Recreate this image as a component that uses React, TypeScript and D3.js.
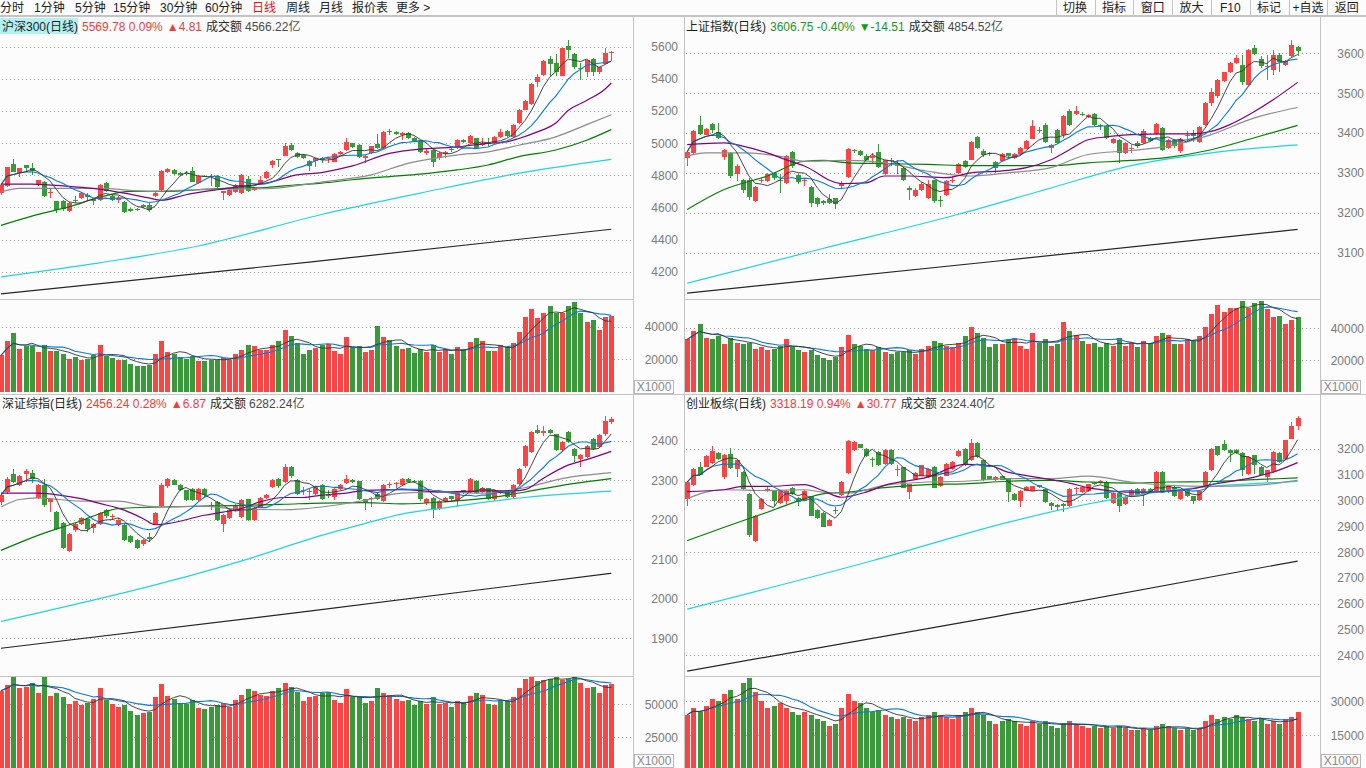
import React, { useEffect, useRef } from "react";
import * as d3 from "d3";

type Ohlc = [number, number, number, number]; // open, high, low, close
type Pt = [number, number]; // candle index, value

// ---------- 沪深300 ----------
const hs300Ohlc: Ohlc[] = [
  [4689,4751,4680,4741],[4731,4854,4725,4850],[4868,4899,4818,4823],[4813,4846,4792,4843],[4862,4865,4823,4848],
  [4848,4874,4803,4829],[4741,4772,4731,4768],[4758,4765,4665,4673],[4689,4714,4659,4697],[4638,4643,4566,4587],
  [4640,4648,4575,4590],[4577,4632,4570,4628],[4648,4669,4628,4640],[4659,4695,4652,4689],[4679,4689,4640,4662],
  [4650,4655,4612,4642],[4645,4745,4640,4741],[4751,4760,4695,4700],[4669,4680,4638,4645],[4645,4669,4628,4659],
  [4632,4638,4566,4570],[4591,4595,4570,4577],[4591,4597,4580,4585],[4617,4624,4595,4601],[4617,4634,4573,4587],
  [4669,4695,4665,4689],[4710,4832,4705,4827],[4819,4846,4813,4840],[4833,4840,4803,4809],[4817,4822,4798,4803],
  [4815,4825,4800,4810],[4829,4854,4757,4761],[4751,4800,4745,4798],[4798,4803,4788,4792],[4798,4805,4731,4790],
  [4798,4803,4720,4724],[4689,4705,4645,4700],[4679,4714,4672,4710],[4695,4745,4689,4741],[4689,4807,4685,4803],
  [4778,4798,4695,4700],[4706,4724,4700,4718],[4745,4798,4740,4772],[4782,4827,4778,4823],[4864,4893,4843,4889],
  [4901,4903,4850,4895],[4922,4998,4918,4981],[4991,4998,4950,4960],[4940,4945,4905,4911],[4926,4930,4900,4905],
  [4889,4893,4829,4860],[4889,4910,4854,4905],[4910,4913,4874,4895],[4901,4913,4874,4910],[4885,4936,4880,4932],
  [4932,4950,4928,4946],[4957,5031,4950,5004],[4998,5002,4970,4977],[4991,4996,4910,4916],[4909,4926,4874,4922],
  [4936,4985,4930,4981],[4994,5055,4962,4967],[4967,5074,4962,5070],[5076,5090,5049,5070],[5070,5076,5053,5059],
  [5049,5070,5018,5066],[5066,5070,5024,5029],[5035,5039,5008,5014],[5018,5022,4940,4946],[4936,4967,4926,4950],
  [4957,4962,4854,4885],[4909,4945,4895,4940],[4932,4950,4905,4946],[4961,4970,4945,4955],[4967,5024,4962,5018],
  [5018,5024,4998,5004],[4998,5049,4994,5045],[5033,5035,4965,4971],[4988,5035,4981,4998],[5000,5035,4981,4994],
  [4998,5043,4994,5039],[5039,5090,5035,5070],[5076,5080,5039,5043],[5039,5119,5035,5115],[5125,5213,5121,5209],
  [5209,5269,5205,5265],[5244,5372,5240,5368],[5382,5429,5347,5409],[5425,5516,5420,5512],[5522,5543,5419,5495],
  [5497,5553,5415,5440],[5419,5594,5415,5590],[5604,5639,5532,5577],[5553,5563,5460,5471],[5467,5501,5392,5460],
  [5440,5520,5409,5516],[5522,5532,5415,5440],[5440,5475,5429,5471],[5495,5590,5490,5559],[5563,5573,5512,5570],
];
const hs300Vol = [
  22400,31000,35900,26300,27900,27900,24300,28600,24900,24900,23100,20000,21200,19600,20400,22400,28600,22200,20800,19400,
  19800,17100,15700,15700,16700,23100,31000,24300,23500,21200,20400,22200,18800,18800,19800,19800,21000,19800,23100,25700,
  28600,27900,25900,25900,28600,31000,37700,34100,30000,23100,25500,26700,29000,29600,24900,23100,33500,27500,27900,24300,
  25500,40200,33500,31600,27900,26100,26700,23700,26100,24300,28600,24300,26100,23100,27300,26100,30400,32800,31000,24900,
  24900,28600,27300,29800,36500,45700,50600,45100,48300,53000,48300,48300,53000,55500,48300,42600,43900,37700,45700,46300,
];
const hs300Ma20: Pt[] = [[0,4745],[5,4745],[11,4731],[16,4714],[20,4689],[24,4659],[26,4644],[30,4679],[35,4710],[40,4735],[43,4751],[48,4802],[52,4817],[57,4858],[63,4936],[68,4963],[73,4973],[79,4998],[82,5008],[84,5029],[87,5070],[90,5125],[92,5203],[95,5265],[98,5337],[99,5374]];
const hs300Ma30: Pt[] = [[0,4696],[3,4718],[16,4718],[24,4700],[32,4710],[37,4714],[43,4716],[52,4758],[60,4802],[66,4874],[74,4926],[79,4946],[84,4987],[90,5039],[95,5115],[99,5177]];
const hs300Ma60: Pt[] = [[0,4488],[5,4546],[11,4603],[16,4663],[21,4700],[27,4700],[32,4710],[37,4720],[43,4724],[48,4741],[52,4751],[57,4772],[63,4792],[68,4807],[74,4833],[79,4864],[84,4916],[90,4957],[95,5018],[99,5084]];
const hs300Ma120: Pt[] = [[0,4168],[16,4255],[32,4360],[52,4556],[68,4689],[84,4813],[99,4899]];
const hs300Ma250: Pt[] = [[0,4062],[50,4260],[99,4464]];
const hs300Ticks = [4200, 4400, 4600, 4800, 5000, 5200, 5400, 5600];
const hs300VolTicks = [20000, 40000];

// ---------- 上证指数 ----------
const shOhlc: Ohlc[] = [
  [3338,3355,3317,3353],[3350,3408,3348,3404],[3419,3443,3395,3398],[3396,3413,3394,3410],[3422,3425,3400,3408],
  [3402,3425,3385,3388],[3339,3360,3333,3357],[3350,3353,3288,3292],[3296,3321,3279,3318],[3282,3285,3250,3256],
  [3283,3286,3231,3239],[3229,3266,3227,3264],[3280,3288,3275,3282],[3279,3300,3277,3298],[3300,3303,3283,3286],
  [3281,3296,3250,3279],[3275,3345,3272,3342],[3352,3355,3313,3317],[3294,3298,3273,3277],[3279,3285,3267,3282],
  [3265,3267,3213,3225],[3238,3240,3213,3221],[3229,3232,3220,3223],[3235,3246,3222,3225],[3236,3238,3208,3221],
  [3267,3279,3263,3273],[3289,3362,3286,3360],[3358,3360,3350,3354],[3356,3358,3342,3344],[3342,3346,3330,3333],
  [3338,3350,3325,3342],[3353,3373,3312,3314],[3298,3333,3295,3331],[3333,3336,3317,3329],[3325,3333,3296,3317],
  [3313,3315,3279,3282],[3263,3266,3231,3256],[3243,3261,3240,3258],[3258,3276,3255,3273],[3238,3281,3235,3273],
  [3281,3283,3225,3229],[3233,3242,3214,3231],[3244,3281,3242,3279],[3279,3292,3275,3281],[3300,3325,3298,3321],
  [3329,3331,3311,3314],[3333,3381,3331,3378],[3389,3392,3360,3363],[3356,3360,3340,3344],[3349,3352,3342,3346],
  [3328,3330,3300,3313],[3329,3350,3326,3348],[3349,3351,3339,3342],[3338,3350,3335,3348],[3346,3365,3344,3363],
  [3361,3382,3359,3379],[3386,3433,3384,3417],[3408,3415,3400,3404],[3421,3425,3375,3378],[3363,3373,3350,3371],
  [3408,3410,3372,3375],[3394,3444,3388,3442],[3456,3459,3418,3421],[3447,3467,3444,3454],[3448,3452,3442,3446],
  [3439,3448,3437,3446],[3447,3450,3417,3419],[3420,3422,3408,3418],[3417,3419,3385,3388],[3375,3388,3373,3386],
  [3383,3385,3325,3350],[3350,3377,3348,3375],[3362,3371,3350,3363],[3375,3381,3363,3367],[3375,3410,3372,3406],
  [3388,3391,3378,3381],[3398,3425,3395,3423],[3413,3415,3355,3358],[3363,3386,3360,3383],[3383,3385,3363,3367],
  [3354,3388,3350,3385],[3395,3404,3379,3396],[3400,3408,3378,3392],[3378,3417,3375,3414],[3421,3479,3418,3475],
  [3475,3513,3467,3504],[3492,3536,3488,3533],[3531,3554,3528,3552],[3552,3578,3550,3575],[3575,3596,3572,3588],
  [3571,3596,3521,3529],[3521,3611,3519,3608],[3613,3621,3596,3598],[3586,3592,3563,3567],[3567,3596,3533,3569],
  [3558,3608,3546,3596],[3596,3600,3554,3579],[3571,3583,3567,3581],[3592,3633,3588,3621],[3615,3618,3592,3607],
];
const shVol = [
  33000,38000,43000,34000,33000,35000,30000,34000,31000,30000,31000,27000,28000,26000,27000,29000,33000,28000,26000,25000,
  26000,23000,21000,20000,22000,28000,36000,30000,29000,27000,26000,28000,25000,24000,25000,25000,26000,24000,27000,29000,
  32000,31000,29000,28000,31000,35000,41000,37000,34000,28000,30000,30000,33000,34000,29000,27000,37000,31000,33000,29000,
  30000,44000,38000,36000,32000,30000,31000,28000,31000,29000,34000,29000,31000,28000,32000,31000,35000,37000,36000,30000,
  30000,33000,32000,35000,41000,49000,55000,50000,53000,53000,57000,53000,56000,57000,52000,47000,48000,43000,45000,47000,
];
const shMa20: Pt[] = [[0,3371],[6,3375],[9,3367],[13,3350],[16,3333],[19,3317],[25,3273],[29,3275],[32,3292],[36,3292],[42,3288],[46,3300],[52,3306],[55,3313],[59,3333],[62,3358],[65,3383],[69,3392],[72,3396],[78,3398],[82,3398],[85,3404],[88,3421],[92,3454],[95,3483],[99,3527]];
const shMa30: Pt[] = [[0,3342],[3,3350],[9,3350],[16,3339],[19,3329],[26,3331],[32,3325],[39,3304],[46,3292],[52,3300],[59,3313],[65,3346],[72,3356],[78,3367],[85,3396],[92,3438],[99,3464]];
const shMa60: Pt[] = [[0,3208],[6,3258],[13,3292],[19,3329],[22,3331],[26,3325],[32,3323],[39,3321],[46,3318],[52,3318],[59,3318],[65,3325],[72,3331],[78,3339],[85,3358],[92,3388],[99,3419]];
const shMa120: Pt[] = [[0,3023],[22,3110],[44,3196],[59,3262],[72,3318],[85,3350],[99,3370]];
const shMa250: Pt[] = [[0,2998],[50,3078],[99,3158]];
const shTicks = [3100, 3200, 3300, 3400, 3500, 3600];
const shVolTicks = [20000, 40000];

// ---------- 深证综指 ----------
const szOhlc: Ohlc[] = [
  [2245,2264,2236,2262],[2270,2307,2266,2304],[2315,2329,2292,2295],[2289,2313,2286,2310],[2316,2329,2295,2322],
  [2318,2327,2293,2304],[2256,2290,2253,2287],[2287,2304,2232,2236],[2245,2254,2219,2251],[2219,2222,2174,2177],
  [2192,2194,2126,2129],[2121,2165,2118,2163],[2173,2194,2169,2188],[2190,2207,2187,2204],[2201,2203,2169,2177],
  [2179,2192,2165,2190],[2190,2220,2187,2217],[2224,2226,2205,2208],[2206,2215,2198,2208],[2186,2203,2183,2200],
  [2186,2188,2146,2149],[2158,2160,2141,2144],[2149,2151,2126,2129],[2137,2150,2134,2148],[2156,2165,2143,2152],
  [2190,2220,2187,2217],[2234,2292,2231,2289],[2284,2306,2281,2304],[2301,2303,2287,2289],[2289,2291,2273,2276],
  [2274,2276,2246,2249],[2278,2281,2246,2249],[2249,2281,2246,2278],[2278,2281,2258,2262],[2237,2245,2224,2235],
  [2245,2247,2197,2200],[2190,2213,2169,2211],[2205,2226,2202,2224],[2225,2240,2222,2238],[2207,2252,2204,2249],
  [2251,2253,2197,2200],[2200,2232,2197,2230],[2232,2258,2229,2256],[2256,2265,2253,2262],[2283,2302,2280,2300],
  [2304,2306,2281,2284],[2295,2340,2292,2333],[2333,2335,2306,2310],[2300,2302,2263,2266],[2273,2283,2262,2275],
  [2271,2278,2249,2273],[2266,2286,2263,2284],[2289,2291,2250,2253],[2262,2274,2256,2260],[2257,2280,2249,2278],
  [2278,2291,2276,2289],[2293,2312,2290,2302],[2300,2302,2293,2295],[2297,2299,2250,2253],[2251,2253,2225,2245],
  [2251,2258,2232,2256],[2266,2268,2250,2253],[2247,2290,2244,2287],[2290,2295,2279,2291],[2290,2296,2279,2292],
  [2287,2306,2284,2304],[2304,2306,2293,2295],[2298,2300,2293,2295],[2298,2300,2248,2251],[2241,2255,2238,2253],
  [2256,2258,2205,2224],[2228,2249,2225,2247],[2247,2258,2244,2256],[2259,2261,2248,2251],[2249,2272,2232,2270],
  [2274,2276,2265,2268],[2270,2306,2267,2304],[2298,2300,2265,2268],[2270,2283,2267,2281],[2279,2281,2250,2253],
  [2253,2276,2247,2274],[2273,2275,2265,2268],[2274,2276,2254,2257],[2257,2291,2254,2289],[2291,2331,2288,2329],
  [2335,2388,2332,2386],[2371,2424,2368,2422],[2428,2439,2416,2419],[2419,2436,2413,2424],[2428,2430,2416,2419],
  [2416,2418,2375,2377],[2377,2399,2374,2397],[2422,2425,2394,2397],[2380,2382,2346,2360],[2354,2367,2333,2365],
  [2359,2388,2356,2386],[2405,2407,2377,2380],[2384,2416,2381,2414],[2416,2462,2413,2450],[2447,2460,2443,2456],
];
const szVol = [
  60000,64000,70000,62000,63000,66000,58000,70000,56000,58000,55000,50000,52000,49000,51000,54000,62000,53000,50000,48000,
  49000,45000,42000,43000,44000,55000,65000,56000,54000,51000,50000,53000,47000,46000,48000,49000,51000,48000,53000,57000,
  61000,60000,57000,56000,60000,62000,66000,63000,59000,52000,55000,56000,58000,59000,53000,51000,61000,55000,56000,51000,
  52000,62000,58000,57000,54000,52000,53000,49000,52000,50000,55000,50000,51000,48000,52000,51000,56000,58000,57000,50000,
  49000,53000,52000,55000,62000,69000,70000,67000,68000,69000,71000,68000,69000,72000,66000,62000,63000,58000,64000,65000,
];
const szMa20: Pt[] = [[0,2267],[6,2267],[10,2261],[13,2253],[16,2241],[20,2224],[23,2203],[25,2187],[27,2190],[33,2211],[36,2219],[39,2228],[42,2245],[46,2256],[49,2256],[52,2262],[56,2267],[59,2274],[65,2276],[72,2270],[78,2273],[83,2273],[85,2276],[88,2305],[92,2338],[95,2352],[99,2373]];
const szMa30: Pt[] = [[0,2232],[3,2251],[6,2255],[13,2247],[19,2247],[23,2236],[26,2232],[33,2234],[39,2226],[46,2225],[52,2232],[59,2249],[65,2267],[72,2270],[78,2267],[85,2281],[91,2304],[99,2319]];
const szMa60: Pt[] = [[0,2122],[6,2160],[13,2197],[16,2215],[19,2228],[26,2232],[33,2234],[39,2236],[46,2239],[52,2242],[59,2243],[65,2240],[72,2245],[78,2253],[85,2270],[91,2287],[99,2304]];
const szMa120: Pt[] = [[0,1942],[40,2100],[52,2160],[59,2190],[65,2214],[72,2230],[85,2256],[99,2272]];
const szMa250: Pt[] = [[0,1874],[50,1968],[99,2064]];
const szTicks = [1900, 2000, 2100, 2200, 2300, 2400];
const szVolTicks = [25000, 50000];

// ---------- 创业板综 ----------
const cybOhlc: Ohlc[] = [
  [3006,3074,2980,3071],[3058,3126,3054,3122],[3131,3148,3097,3100],[3131,3174,3128,3170],[3144,3209,3140,3191],
  [3183,3187,3157,3161],[3090,3178,3084,3174],[3181,3204,3122,3126],[3122,3160,3090,3157],[3109,3113,3041,3045],
  [3025,3028,2860,2867],[2841,2944,2838,2941],[2967,3009,2963,3006],[3043,3051,3032,3045],[3036,3039,2980,2999],
  [2989,3041,2986,3038],[2999,3041,2986,3038],[3047,3050,3020,3023],[3010,3012,2980,2993],[2999,3041,2996,3038],
  [3015,3018,2938,2941],[2963,2966,2929,2932],[2950,2953,2895,2898],[2902,2927,2899,2924],[2962,2974,2948,2959],
  [3019,3074,3015,3071],[3106,3234,3102,3230],[3196,3229,3193,3226],[3217,3220,3201,3204],[3200,3203,3167,3170],
  [3162,3168,3131,3160],[3187,3190,3132,3135],[3139,3199,3136,3196],[3196,3199,3136,3139],[3121,3135,3096,3123],
  [3129,3131,3046,3049],[3032,3064,3006,3062],[3084,3108,3081,3106],[3096,3138,3093,3135],[3090,3125,3087,3122],
  [3131,3134,3046,3049],[3054,3093,3051,3090],[3096,3145,3093,3142],[3122,3151,3119,3148],[3170,3194,3167,3191],
  [3200,3203,3132,3135],[3157,3239,3154,3223],[3222,3225,3165,3168],[3157,3160,3074,3077],[3093,3096,3081,3084],
  [3077,3093,3074,3090],[3093,3096,3077,3080],[3084,3087,2993,3032],[3025,3028,2999,3002],[2999,3041,2974,3038],
  [3038,3054,3035,3051],[3038,3057,3035,3054],[3058,3061,3048,3051],[3045,3048,2990,2993],[2989,2992,2961,2980],
  [2983,2986,2958,2974],[2986,2989,2954,2980],[2977,3048,2974,3045],[3044,3051,3025,3046],[3032,3054,3029,3051],
  [3036,3065,3033,3062],[3068,3071,3058,3066],[3066,3077,3063,3074],[3071,3074,3007,3010],[2989,3031,2986,3028],
  [3028,3031,2954,2980],[2984,3015,2981,3012],[3015,3044,3012,3041],[3045,3048,3016,3019],[3019,3048,2980,3045],
  [3045,3048,3029,3032],[3032,3112,3029,3109],[3109,3112,3029,3032],[3032,3057,3029,3054],[3051,3054,3012,3015],
  [3006,3041,3003,3038],[3036,3039,3012,3015],[3015,3018,2986,2997],[3002,3041,2999,3038],[3051,3112,3048,3109],
  [3118,3203,3115,3200],[3209,3212,3171,3174],[3219,3232,3193,3196],[3194,3197,3148,3183],[3194,3197,3180,3183],
  [3183,3186,3096,3116],[3103,3171,3100,3168],[3174,3177,3103,3135],[3131,3134,3097,3100],[3090,3119,3071,3116],
  [3109,3190,3106,3187],[3183,3186,3145,3148],[3161,3235,3158,3232],[3239,3304,3236,3287],[3287,3326,3271,3318],
];
const cybVol = [
  24000,27000,25000,28000,31000,30000,33000,35000,31000,38000,40000,34000,30000,27000,28000,29000,27000,25000,24000,25000,
  24000,22000,21000,19000,20000,27000,33000,30000,29000,27000,25000,26000,24000,23000,22000,23000,22000,21000,23000,24000,
  25000,24000,23000,22000,24000,25000,27000,25000,24000,21000,20000,21000,22000,21000,20000,19000,21000,20000,21000,19000,
  18000,20000,21000,20000,19000,18000,19000,18000,19000,18000,19000,18000,17000,17000,18000,17000,19000,20000,19000,18000,
  17000,18000,17000,18000,21000,24000,22000,23000,22000,24000,23000,22000,21000,22000,20000,21000,20000,22000,23000,25000,
];
const cybMa20: Pt[] = [[0,3034],[6,3041],[9,3054],[13,3054],[19,3061],[22,3038],[25,3012],[29,3032],[32,3058],[39,3090],[45,3139],[49,3135],[52,3109],[55,3096],[59,3080],[62,3067],[65,3049],[69,3036],[72,3032],[75,3032],[78,3036],[82,3045],[85,3061],[92,3090],[95,3109],[99,3146]];
const cybMa30: Pt[] = [[0,3006],[3,3032],[6,3041],[13,3038],[19,3041],[22,3032],[26,3028],[32,3058],[39,3071],[45,3074],[52,3084],[59,3084],[65,3094],[72,3071],[78,3058],[85,3054],[92,3058],[99,3077]];
const cybMa60: Pt[] = [[0,2844],[6,2896],[13,2954],[19,3006],[22,3025],[26,3032],[32,3049],[39,3061],[45,3064],[52,3074],[59,3077],[65,3071],[72,3067],[78,3071],[85,3073],[92,3080],[99,3087]];
const cybMa120: Pt[] = [[0,2579],[30,2766],[52,2915],[65,2986],[78,3038],[85,3054],[99,3073]];
const cybMa250: Pt[] = [[0,2339],[50,2550],[99,2765]];
const cybTicks = [2400, 2500, 2600, 2700, 2800, 2900, 3000, 3100, 3200];
const cybGridTicks = [2400, 2600, 2800, 3000, 3200];
const cybVolTicks = [15000, 30000];

const toolbarItems = ["分时", "1分钟", "5分钟", "15分钟", "30分钟", "60分钟", "日线", "周线", "月线", "报价表", "更多 >"];
const toolbarX = [0, 34, 75, 113, 160, 205, 252, 286, 319, 352, 396];
const buttons = ["切换", "指标", "窗口", "放大", "F10", "标记", "+自选", "返回"];

const RED = "#fd4444";
const GREEN = "#399a39";
const FONT = "'Liberation Sans', 'Noto Sans CJK SC', sans-serif";

const panels = [
  { id: "hs300", title: "沪深300(日线)", quote: "5569.78 0.09%", change: "▲4.81", amount: "4566.22亿", up: true, active: true,
    ohlc: hs300Ohlc, vol: hs300Vol, ma20: hs300Ma20, ma30: hs300Ma30, ma60: hs300Ma60, ma120: hs300Ma120, ma250: hs300Ma250,
    ticks: hs300Ticks, grid: hs300Ticks, volTicks: hs300VolTicks,
    priceDomain: [4200, 5600], priceRange: [271.7, 46.7], volDomain: [0, 40000], volRange: [391.7, 326.7],
    left: 0, right: 633, labelX: 678, boxX: 634, first: 1, last: 611.3, top: 17, headY: 31, priceTop: 34, split: 299, bottom: 394 },
  { id: "sh", title: "上证指数(日线)", quote: "3606.75 -0.40%", change: "▼-14.51", amount: "4854.52亿", up: false, active: false,
    ohlc: shOhlc, vol: shVol, ma20: shMa20, ma30: shMa30, ma60: shMa60, ma120: shMa120, ma250: shMa250,
    ticks: shTicks, grid: shTicks, volTicks: shVolTicks,
    priceDomain: [3100, 3600], priceRange: [252.5, 53.3], volDomain: [0, 40000], volRange: [391.7, 328.3],
    left: 684, right: 1320, labelX: 1364, boxX: 1321, first: 687.2, last: 1297.6, top: 17, headY: 31, priceTop: 34, split: 299, bottom: 394 },
  { id: "sz", title: "深证综指(日线)", quote: "2456.24 0.28%", change: "▲6.87", amount: "6282.24亿", up: true, active: false,
    ohlc: szOhlc, vol: szVol, ma20: szMa20, ma30: szMa30, ma60: szMa60, ma120: szMa120, ma250: szMa250,
    ticks: szTicks, grid: szTicks, volTicks: szVolTicks,
    priceDomain: [1900, 2400], priceRange: [638, 440.7], volDomain: [0, 50000], volRange: [770.6, 704],
    left: 0, right: 633, labelX: 678, boxX: 634, first: 1, last: 611.3, top: 394, headY: 408, priceTop: 412, split: 676, bottom: 768 },
  { id: "cyb", title: "创业板综(日线)", quote: "3318.19 0.94%", change: "▲30.77", amount: "2324.40亿", up: true, active: false,
    ohlc: cybOhlc, vol: cybVol, ma20: cybMa20, ma30: cybMa30, ma60: cybMa60, ma120: cybMa120, ma250: cybMa250,
    ticks: cybTicks, grid: cybGridTicks, volTicks: cybVolTicks,
    priceDomain: [2400, 3200], priceRange: [655.3, 448.7], volDomain: [0, 30000], volRange: [769, 701],
    left: 684, right: 1320, labelX: 1364, boxX: 1321, first: 687.2, last: 1297.6, top: 394, headY: 408, priceTop: 412, split: 676, bottom: 768 },
];

// simple moving average over what is available (the chart's own MA5/MA10)
function movingAvg(vals: number[], n: number): Pt[] {
  return vals.map((_, i) => [i, d3.mean(vals.slice(Math.max(0, i - n + 1), i + 1)) as number]);
}

function drawPanel(svg: any, p: any) {
  const n = p.ohlc.length;
  const x = d3.scaleLinear().domain([0, n - 1]).range([p.first, p.last]);
  const y = d3.scaleLinear().domain(p.priceDomain).range(p.priceRange);
  const yv = d3.scaleLinear().domain(p.volDomain).range(p.volRange);
  const g = svg.append("g");

  const defs = svg.append("defs");
  defs.append("clipPath").attr("id", `price-${p.id}`).append("rect")
    .attr("x", p.left).attr("y", p.priceTop).attr("width", p.right - p.left).attr("height", p.split - p.priceTop);
  defs.append("clipPath").attr("id", `vol-${p.id}`).append("rect")
    .attr("x", p.left).attr("y", p.split + 1).attr("width", p.right - p.left).attr("height", p.bottom - p.split - 1);

  // dotted grid
  const grid = (vals: number[], sc: any) =>
    g.append("g").selectAll("line").data(vals).join("line")
      .attr("x1", p.left + 2).attr("x2", p.right - 1)
      .attr("y1", (d: number) => Math.round(sc(d)) + 0.5).attr("y2", (d: number) => Math.round(sc(d)) + 0.5)
      .attr("stroke", "#a8a8a8").attr("stroke-dasharray", "1,3");
  grid(p.grid, y);
  grid(p.volTicks, yv);

  // axis labels
  const labels = (vals: number[], sc: any) =>
    g.append("g").selectAll("text").data(vals).join("text")
      .attr("x", p.labelX).attr("y", (d: number) => sc(d) + 4.5)
      .attr("text-anchor", "end").attr("fill", "#7a7a7a").style("font-size", "12px")
      .text((d: number) => d);
  labels(p.ticks, y);
  labels(p.volTicks, yv);

  // X1000 box
  g.append("rect").attr("x", p.boxX + 0.5).attr("y", p.bottom - 13.5).attr("width", 39).attr("height", 13)
    .attr("fill", "none").attr("stroke", "#b8b8b8");
  g.append("text").attr("x", p.boxX + 20).attr("y", p.bottom - 3).attr("text-anchor", "middle")
    .attr("fill", "#8a8a8a").style("font-size", "12px").text("X1000");

  // candles
  const pc = g.append("g").attr("clip-path", `url(#price-${p.id})`).attr("shape-rendering", "crispEdges");
  const col = (d: Ohlc) => (d[3] >= d[0] ? RED : GREEN);
  pc.selectAll("line.wick").data(p.ohlc).join("line").attr("class", "wick")
    .attr("x1", (_: Ohlc, i: number) => Math.round(x(i)) + 0.5).attr("x2", (_: Ohlc, i: number) => Math.round(x(i)) + 0.5)
    .attr("y1", (d: Ohlc) => y(d[1])).attr("y2", (d: Ohlc) => y(d[2]))
    .attr("stroke", col);
  pc.selectAll("rect").data(p.ohlc).join("rect")
    .attr("x", (_: Ohlc, i: number) => Math.round(x(i)) - 2)
    .attr("width", 5)
    .attr("y", (d: Ohlc) => y(Math.max(d[0], d[3])))
    .attr("height", (d: Ohlc) => Math.max(1, Math.abs(y(d[0]) - y(d[3]))))
    .attr("fill", col);

  // moving averages
  const closes = p.ohlc.map((d: Ohlc) => d[3]);
  const smooth = d3.line<Pt>().x((d) => x(d[0])).y((d) => y(d[1])).curve(d3.curveMonotoneX);
  const straight = d3.line<Pt>().x((d) => x(d[0])).y((d) => y(d[1]));
  const lc = g.append("g").attr("clip-path", `url(#price-${p.id})`).attr("fill", "none");
  lc.append("path").attr("d", smooth(p.ma250)).attr("stroke", "#262626").attr("stroke-width", 1.2);
  lc.append("path").attr("d", smooth(p.ma120)).attr("stroke", "#22d4e0").attr("stroke-width", 1.2);
  lc.append("path").attr("d", smooth(p.ma60)).attr("stroke", "#008000").attr("stroke-width", 1.2);
  lc.append("path").attr("d", smooth(p.ma30)).attr("stroke", "#8c8c8c").attr("stroke-width", 1.2);
  lc.append("path").attr("d", smooth(p.ma20)).attr("stroke", "#800080").attr("stroke-width", 1.2);
  lc.append("path").attr("d", straight(movingAvg(closes, 10))).attr("stroke", "#0a7ad6").attr("stroke-width", 1.1);
  lc.append("path").attr("d", straight(movingAvg(closes, 5))).attr("stroke", "#333").attr("stroke-width", 0.9);

  // volume
  const vc = g.append("g").attr("clip-path", `url(#vol-${p.id})`);
  vc.append("g").attr("shape-rendering", "crispEdges").selectAll("rect").data(p.vol).join("rect")
    .attr("x", (_: number, i: number) => Math.round(x(i)) - 2)
    .attr("width", 5)
    .attr("y", (d: number) => yv(d))
    .attr("height", (d: number) => yv(0) - yv(d))
    .attr("fill", (_: number, i: number) => col(p.ohlc[i]));
  const vline = d3.line<Pt>().x((d) => x(d[0])).y((d) => yv(d[1]));
  vc.append("path").attr("d", vline(movingAvg(p.vol, 10))).attr("fill", "none").attr("stroke", "#0a7ad6").attr("stroke-width", 1.1);
  vc.append("path").attr("d", vline(movingAvg(p.vol, 5))).attr("fill", "none").attr("stroke", "#333").attr("stroke-width", 0.9);

  // separator between price and volume
  g.append("line").attr("x1", p.left).attr("x2", p.right).attr("y1", p.split + 0.5).attr("y2", p.split + 0.5)
    .attr("stroke", "#c4c4c4");

  // header
  const tx = p.left + 2;
  if (p.active) {
    g.append("rect").attr("x", p.left).attr("y", p.top + 1).attr("width", 78).attr("height", 16).attr("fill", "#b3f0f0");
  }
  const head = g.append("text").attr("x", tx).attr("y", p.headY).style("font-size", "12px");
  head.append("tspan").attr("fill", "#1e1e1e").text(p.title);
  head.append("tspan").attr("fill", p.up ? "#f23c3c" : "#18991c").attr("dx", 4).text(p.quote);
  head.append("tspan").attr("fill", p.up ? "#f23c3c" : "#18991c").attr("dx", 4).text(p.change);
  head.append("tspan").attr("fill", "#2a2a2a").attr("dx", 4).text("成交额");
  head.append("tspan").attr("fill", "#4a4a4a").attr("dx", 3).text(p.amount);
}

export default function App() {
  const ref = useRef<SVGSVGElement>(null);

  useEffect(() => {
    const svg = d3.select(ref.current);
    svg.selectAll("*").remove();
    svg.append("rect").attr("width", 1366).attr("height", 768).attr("fill", "#fcfcfc");

    panels.forEach((p) => drawPanel(svg, p));

    // frame lines
    const frame = svg.append("g").attr("stroke", "#c4c4c4").attr("shape-rendering", "crispEdges");
    [633.5, 684.5, 1320.5].forEach((xv) =>
      frame.append("line").attr("x1", xv).attr("x2", xv).attr("y1", 17).attr("y2", 768));
    frame.append("line").attr("x1", 0).attr("x2", 1366).attr("y1", 394.5).attr("y2", 394.5);
    frame.append("line").attr("x1", 0).attr("x2", 1366).attr("y1", 16).attr("y2", 16).attr("stroke-width", 2);

    // toolbar
    const tb = svg.append("g").style("font-size", "12px");
    tb.selectAll("text").data(toolbarItems).join("text")
      .attr("x", (_: string, i: number) => toolbarX[i]).attr("y", 12)
      .attr("fill", (d: string) => (d === "日线" ? "#f01010" : "#222"))
      .text((d: string) => d);
    const bw = 38.8;
    const bx0 = 1055.7;
    buttons.forEach((b, i) => {
      tb.append("line").attr("x1", Math.round(bx0 + i * bw) + 0.5).attr("x2", Math.round(bx0 + i * bw) + 0.5)
        .attr("y1", 0).attr("y2", 16).attr("stroke", "#c4c4c4");
      tb.append("text").attr("x", bx0 + i * bw + bw / 2).attr("y", 12).attr("text-anchor", "middle")
        .attr("fill", "#222").text(b);
    });
  }, []);

  return (
    <svg
      ref={ref}
      width={1366}
      height={768}
      style={{ position: "absolute", left: 0, top: 0, fontFamily: FONT }}
    />
  );
}
